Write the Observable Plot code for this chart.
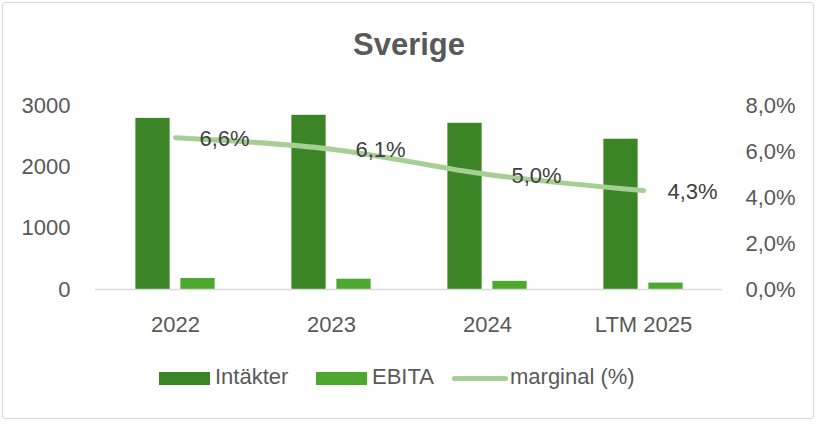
<!DOCTYPE html>
<html>
<head>
<meta charset="utf-8">
<script src="https://cdn.jsdelivr.net/npm/d3@7"></script>
<script src="https://cdn.jsdelivr.net/npm/@observablehq/plot@0.6"></script>
<style>
  body { margin: 0; background: #fff; font-family: "Liberation Sans", Arial, sans-serif; }
  #wrap { position: relative; width: 820px; height: 424px; overflow: hidden; background: #fff; }
  #frame { position: absolute; left: 2px; top: 2px; width: 810px; height: 415px; border: 1.5px solid #d9d9d9; border-radius: 3px; }
  #title { position: absolute; left: 0; top: 29px; width: 818px; text-align: center; font-size: 31px; line-height: 31px; font-weight: bold; color: #595959; }
  #chart { position: absolute; left: 0; top: 0; }
  .sw { position: absolute; height: 13px; top: 372px; }
  .lt { position: absolute; top: 366px; font-size: 22px; line-height: 22px; color: #595959; white-space: nowrap; }
</style>
</head>
<body>
<div id="wrap">
  <div id="frame"></div>
  <div id="title">Sverige</div>
  <div id="chart"></div>
  <div id="legend"></div>
</div>
<script>
const categories = ["2022", "2023", "2024", "LTM 2025"];
const intakter = [2790, 2840, 2710, 2450];
const ebita = [180, 168, 133, 105];
const marginal = [6.6, 6.1, 5.0, 4.3];
const leftTicks = [0, 1000, 2000, 3000];
const rightTicks = [0, 2, 4, 6, 8];

const colors = { intakter: "#3B8527", ebita: "#4EA72E", marginal: "#A6CF95" };
const yMax = 3000, pMax = 8;
const k = yMax / pMax; // maps percent onto the left scale

const data = categories.map((c, i) => ({
  cat: c, intakter: intakter[i], ebita: ebita[i], marginal: marginal[i]
}));
const fmt = v => v.toFixed(1).replace(".", ",") + "%";

const W = 820, H = 350, mL = 95, mR = 98, mT = 105, mB = 61;
const bw = (W - mL - mR) / categories.length;
const half = bw / 2;

const chart = Plot.plot({
  width: W, height: H,
  marginLeft: mL, marginRight: mR, marginTop: mT, marginBottom: mB,
  style: { fontFamily: "'Liberation Sans', Arial, sans-serif", fontSize: "22px", color: "#595959", background: "transparent" },
  x: { domain: categories, padding: 0, label: null },
  y: { domain: [0, yMax], label: null },
  marks: [
    Plot.barY(data, { x: "cat", y: "intakter", fill: colors.intakter, insetLeft: half - 40, insetRight: half + 5 }),
    Plot.barY(data, { x: "cat", y: "ebita", fill: colors.ebita, insetLeft: half + 5, insetRight: half - 40 }),
    Plot.ruleY([0], { stroke: "#d9d9d9", strokeWidth: 1.5 }),
    Plot.line(data, { x: "cat", y: d => d.marginal * k, stroke: colors.marginal, strokeWidth: 5, strokeLinecap: "round", curve: "catmull-rom" }),
    Plot.text(data, { x: "cat", y: d => d.marginal * k, text: d => fmt(d.marginal), textAnchor: "start", dx: 24, dy: 1, fontSize: 22, fill: "#404040" }),
    Plot.axisX({ tickSize: 0, tickPadding: 27, label: null, fontSize: 22 }),
    Plot.axisY({ anchor: "left", ticks: leftTicks, tickFormat: d => String(d), tickSize: 0, tickPadding: 25, label: null, fontSize: 22 }),
    Plot.axisY({ anchor: "right", ticks: rightTicks.map(p => p * k), tickFormat: v => fmt(v / k), tickSize: 0, tickPadding: 23, label: null, fontSize: 22 })
  ]
});
document.getElementById("chart").appendChild(chart);

// legend
const legendItems = [
  { label: "Intäkter", color: colors.intakter, type: "bar", sx: 159, sw: 51, tx: 215 },
  { label: "EBITA", color: colors.ebita, type: "bar", sx: 316, sw: 51, tx: 372 },
  { label: "marginal (%)", color: colors.marginal, type: "line", sx: 452, sw: 56, tx: 510 }
];
const lg = document.getElementById("legend");
for (const it of legendItems) {
  const s = document.createElement("div");
  s.className = "sw";
  s.style.left = it.sx + "px";
  s.style.width = it.sw + "px";
  s.style.background = it.color;
  if (it.type === "line") { s.style.height = "5px"; s.style.top = "376px"; s.style.borderRadius = "3px"; }
  lg.appendChild(s);
  const t = document.createElement("div");
  t.className = "lt";
  t.style.left = it.tx + "px";
  t.textContent = it.label;
  lg.appendChild(t);
}
</script>
</body>
</html>
